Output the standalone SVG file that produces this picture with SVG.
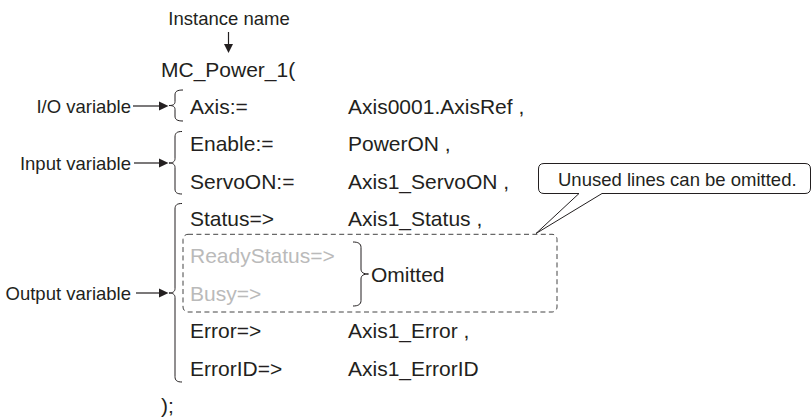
<svg xmlns="http://www.w3.org/2000/svg" width="812" height="417" viewBox="0 0 812 417">
<defs>
<style>
.lbl{font-family:"Liberation Sans",Arial,sans-serif;font-size:18.5px;fill:#231f20}
.code{font-family:"Liberation Sans",Arial,sans-serif;font-size:21px;fill:#231f20}
.grey{fill:#bababa}
.ln{stroke:#231f20;stroke-width:1.2;fill:none}
.br{stroke:#231f20;stroke-width:1;fill:none}
.ah{fill:#231f20}
</style>
</defs>
<rect width="812" height="417" fill="#ffffff"/>

<g id="connectors">
  <line class="ln" x1="228.5" y1="32" x2="228.5" y2="45"/>
  <polygon class="ah" points="224,44 233,44 228.5,53"/>
  <line class="ln" x1="133" y1="106" x2="160" y2="106"/>
  <polygon class="ah" points="159,101.5 168.5,106 159,110.5"/>
  <line class="ln" x1="134" y1="163" x2="160" y2="163"/>
  <polygon class="ah" points="159,158.5 168.5,163 159,167.5"/>
  <line class="ln" x1="136" y1="293" x2="160" y2="293"/>
  <polygon class="ah" points="159,288.5 168.5,293 159,297.5"/>
</g>

<g id="instance-name">
  <text class="lbl" x="229" y="25" text-anchor="middle">Instance name</text>
</g>

<g id="label-io">
  <text class="lbl" x="131" y="113" text-anchor="end">I/O variable</text>
  <path class="br" d="M183 90 C177 90 175 91.5 175 95 L175 101.5 C175 104.5 173 105.5 169 105.5 C173 105.5 175 106.5 175 109.5 L175 116 C175 119.5 177 121 183 121"/>
</g>

<g id="label-input">
  <text class="lbl" x="131" y="169.5" text-anchor="end">Input variable</text>
  <path class="br" d="M182 131.5 C177 131.5 175 133 175 137 L175 158.5 C175 161.5 173 163 169 163 C173 163 175 164.5 175 167.5 L175 189 C175 192.5 177 194 182 194"/>
</g>

<g id="label-output">
  <text class="lbl" x="131" y="299.5" text-anchor="end">Output variable</text>
  <path class="br" d="M182 203.5 C177 203.5 175 205 175 209 L175 288.5 C175 291.5 173 293 169 293 C173 293 175 294.5 175 297.5 L175 376.5 C175 380.5 177 382 182 382"/>
</g>

<g id="code">
  <text class="code" x="161" y="77">MC_Power_1(</text>
  <text class="code" x="190" y="114">Axis:=</text>
  <text class="code" x="348" y="114">Axis0001.AxisRef ,</text>
  <text class="code" x="190" y="151.4">Enable:=</text>
  <text class="code" x="348" y="151.4">PowerON ,</text>
  <text class="code" x="190" y="188.8">ServoON:=</text>
  <text class="code" x="348" y="188.8">Axis1_ServoON ,</text>
  <text class="code" x="190" y="226.2">Status=&gt;</text>
  <text class="code" x="348" y="226.2">Axis1_Status ,</text>
  <text class="code grey" x="190" y="263.4">ReadyStatus=&gt;</text>
  <text class="code grey" x="190" y="301">Busy=&gt;</text>
  <text class="code" x="190" y="338.4">Error=&gt;</text>
  <text class="code" x="348" y="338.4">Axis1_Error ,</text>
  <text class="code" x="190" y="375.8">ErrorID=&gt;</text>
  <text class="code" x="348" y="375.8">Axis1_ErrorID</text>
  <text class="code" x="161" y="413.2">);</text>
</g>

<g id="omitted-box">
  <rect x="183" y="234.3" width="374" height="77.7" rx="5" ry="5" fill="none" stroke="#444" stroke-width="1" stroke-dasharray="5 3.4"/>
  <path class="br" d="M353 242 C358 242 361 243.5 361 247.5 L361 269 C361 272.5 363.5 274 368.5 274 C363.5 274 361 275.5 361 279 L361 300.5 C361 304.5 358 306 353 306"/>
  <text class="code" x="371" y="281.8">Omitted</text>
</g>

<g id="callout">
  <path d="M805 163.5 L544 163.5 Q538.5 163.5 538.5 169 L538.5 188 Q538.5 193.5 544 193.5 L579 193.5 L536 233.5 L602 193.5 L805 193.5 Q810.5 193.5 810.5 188 L810.5 169 Q810.5 163.5 805 163.5 Z" fill="#ffffff" stroke="#231f20" stroke-width="1"/>
  <text class="lbl" x="558" y="186">Unused lines can be omitted.</text>
</g>
</svg>
